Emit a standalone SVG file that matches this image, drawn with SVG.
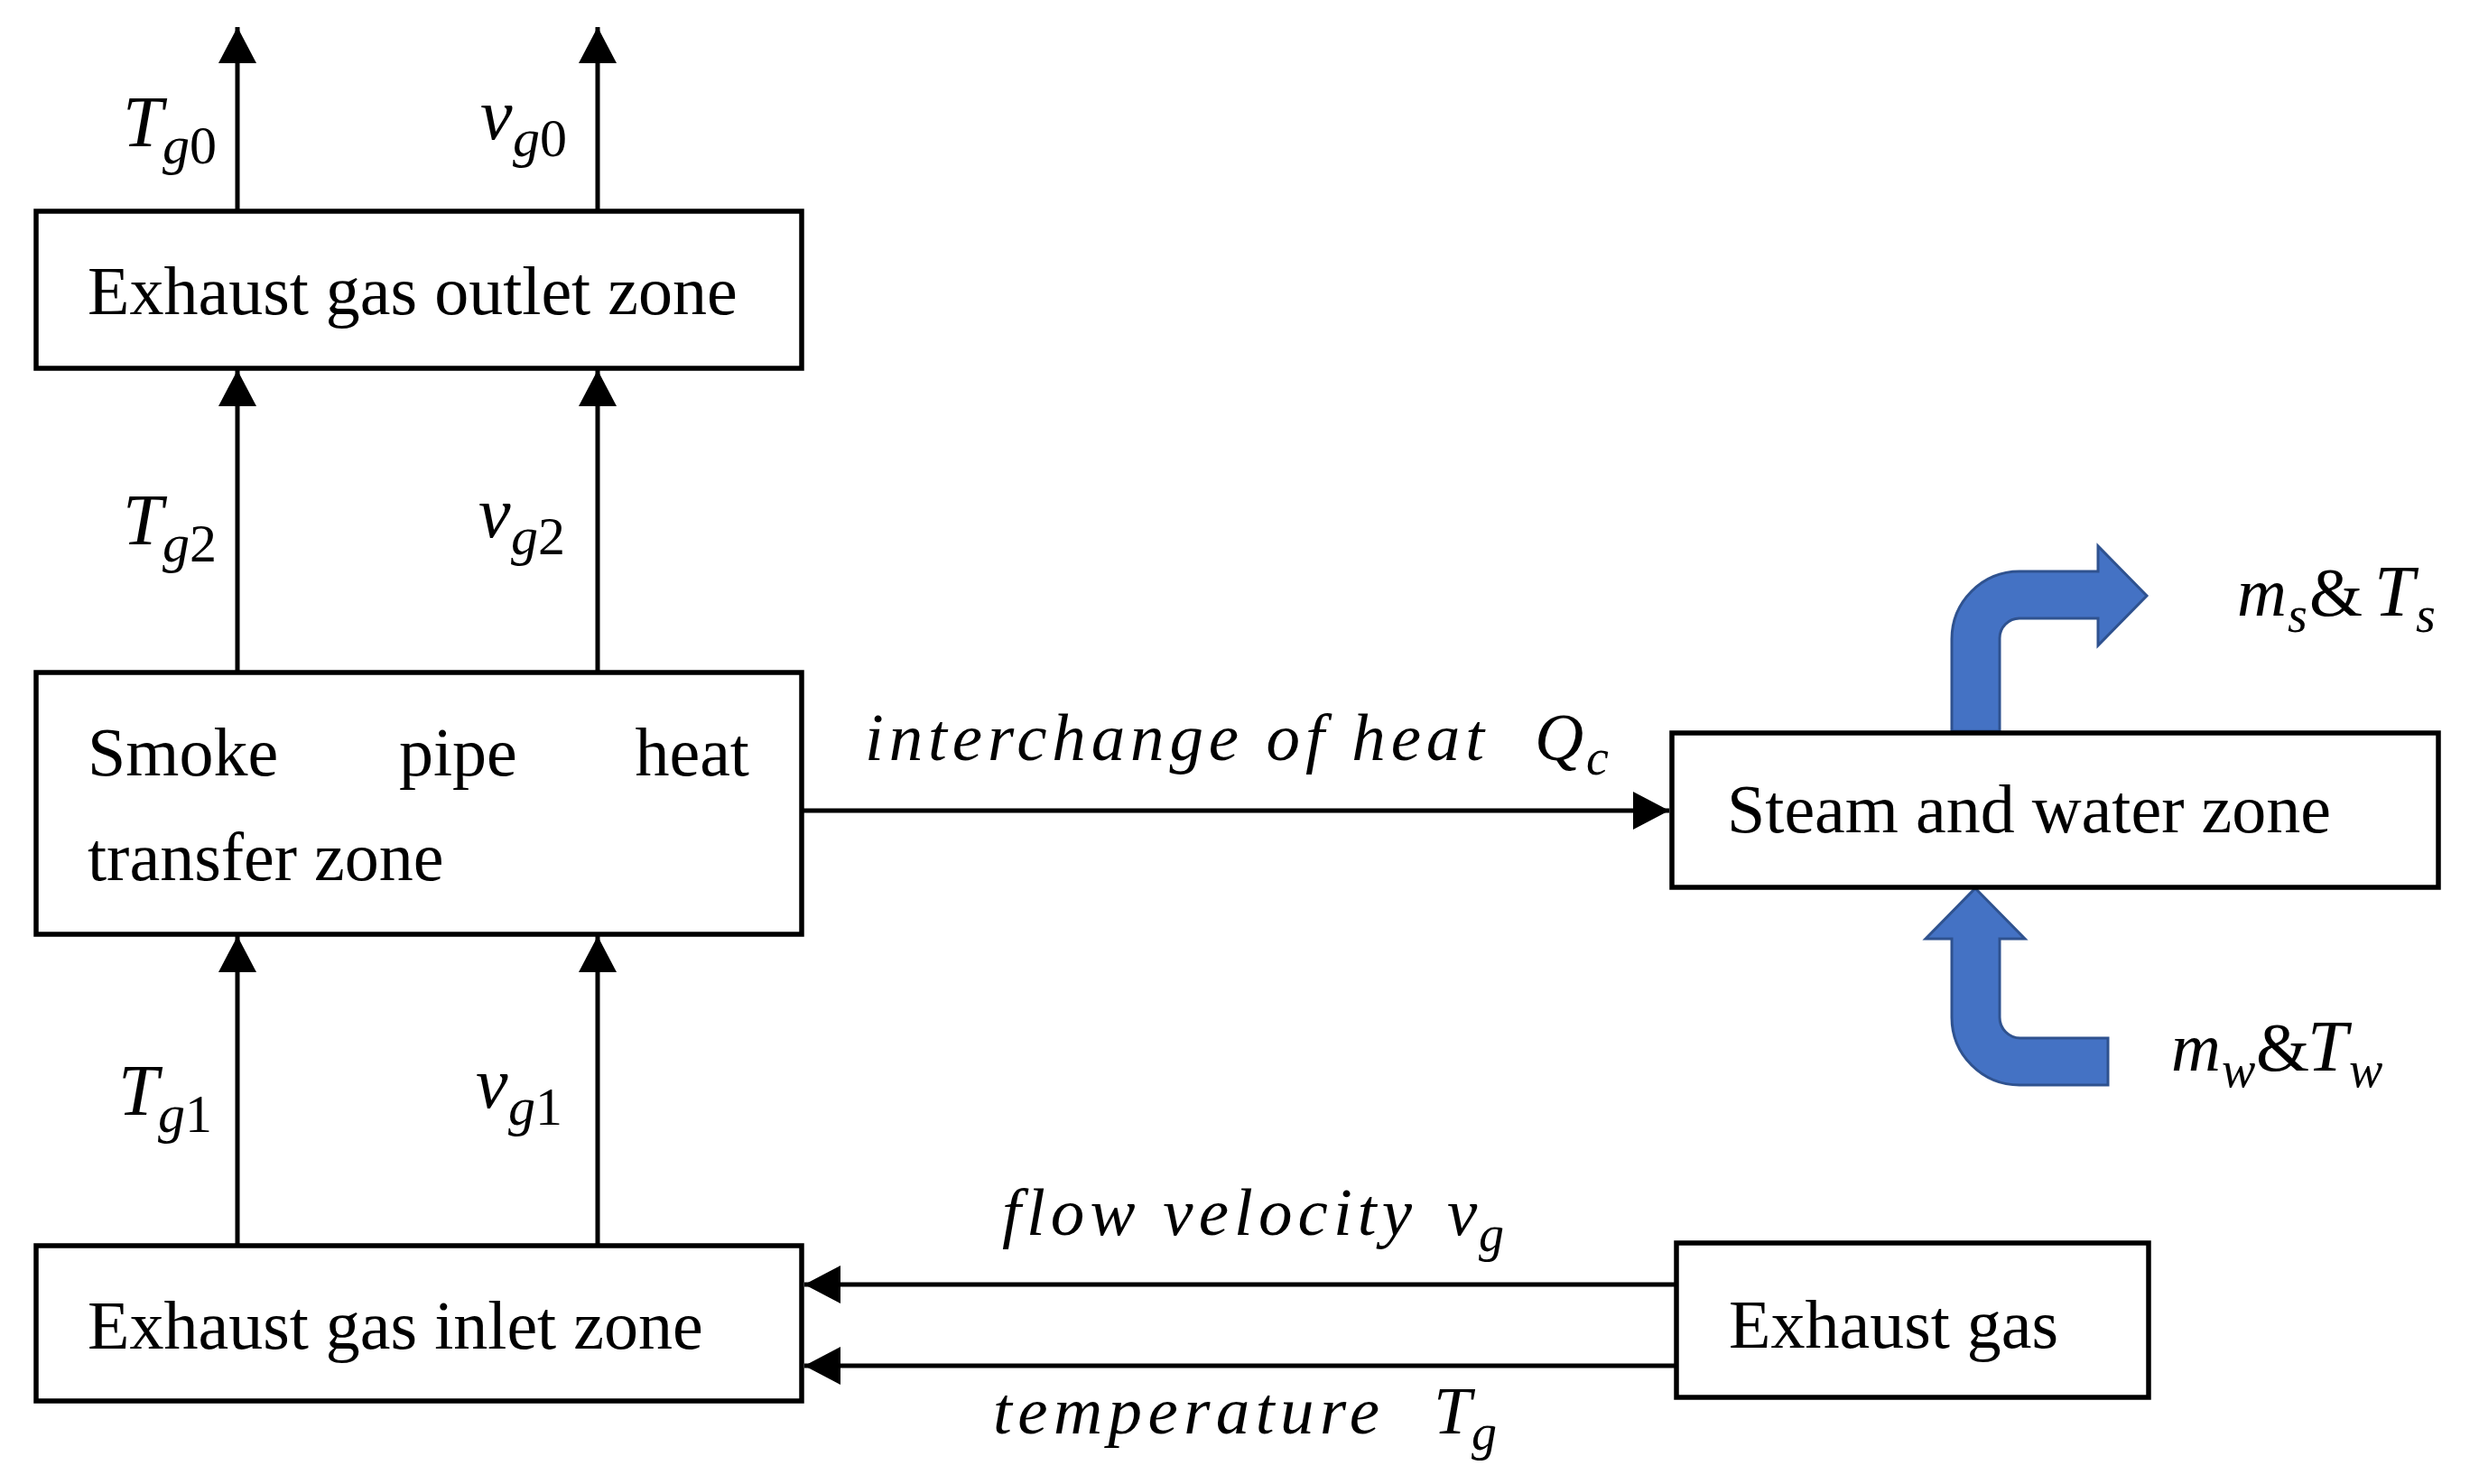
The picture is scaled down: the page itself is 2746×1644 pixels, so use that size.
<svg xmlns="http://www.w3.org/2000/svg" width="2746" height="1644" viewBox="0 0 2746 1644">
<style>
.box{fill:#fff;stroke:#000;stroke-width:5.5}
.bt{font-family:"Liberation Serif","Times New Roman",serif;font-size:76px;fill:#000}
.it{font-family:"Liberation Serif","Times New Roman",serif;font-style:italic;font-size:75px;fill:#000}
.sy{font-family:"Liberation Serif","Times New Roman",serif;font-style:italic;font-size:80px;fill:#000}
.sb{font-family:"Liberation Serif","Times New Roman",serif;font-style:italic;font-size:60px;fill:#000}
.up{font-style:normal}
.ln{stroke:#000;stroke-width:5;fill:none}
.blue{fill:#4472C4;stroke:#2F528F;stroke-width:3;stroke-linejoin:miter}
</style>
<defs>
<marker id="ah" viewBox="0 0 40 42" refX="40" refY="21" markerWidth="40" markerHeight="42" markerUnits="userSpaceOnUse" orient="auto">
<path d="M0,0 L40,21 L0,42 Z" fill="#000"/>
</marker>
</defs>
<rect width="2746" height="1644" fill="#fff"/>

<g id="connectors">
<line class="ln" x1="263" y1="234" x2="263" y2="30" marker-end="url(#ah)"/>
<line class="ln" x1="662" y1="234" x2="662" y2="30" marker-end="url(#ah)"/>
<line class="ln" x1="263" y1="745" x2="263" y2="410" marker-end="url(#ah)"/>
<line class="ln" x1="662" y1="745" x2="662" y2="410" marker-end="url(#ah)"/>
<line class="ln" x1="263" y1="1380" x2="263" y2="1037" marker-end="url(#ah)"/>
<line class="ln" x1="662" y1="1380" x2="662" y2="1037" marker-end="url(#ah)"/>
<line class="ln" x1="888" y1="898" x2="1849" y2="898" marker-end="url(#ah)"/>
<line class="ln" x1="1857" y1="1423" x2="891" y2="1423" marker-end="url(#ah)"/>
<line class="ln" x1="1857" y1="1513" x2="891" y2="1513" marker-end="url(#ah)"/>
<path class="blue" d="M2162,810 L2162,708 A75,75 0 0 1 2237,633 L2324,633 L2324,605 L2378,660 L2324,715 L2324,685 L2237,685 A22,22 0 0 0 2215,707 L2215,810 Z"/>
<path class="blue" d="M2188,984 L2243,1040 L2215,1040 L2215,1127 A23,23 0 0 0 2238,1150 L2335,1150 L2335,1202 L2237,1202 A75,75 0 0 1 2162,1127 L2162,1040 L2133,1040 Z"/>
</g>

<g id="labels">
<text class="sy" x="136" y="162">T</text><text class="sb" x="180" y="181">g<tspan class="up">0</tspan></text>
<text class="sy" x="532" y="154">v</text><text class="sb" x="568" y="173">g<tspan class="up">0</tspan></text>
<text class="sy" x="136" y="603">T</text><text class="sb" x="180" y="622">g<tspan class="up">2</tspan></text>
<text class="sy" x="530" y="595">v</text><text class="sb" x="566" y="614">g<tspan class="up">2</tspan></text>
<text class="sy" x="131" y="1235">T</text><text class="sb" x="175" y="1254">g<tspan class="up">1</tspan></text>
<text class="sy" x="527" y="1227">v</text><text class="sb" x="563" y="1246">g<tspan class="up">1</tspan></text>
<text class="it" x="958" y="842" textLength="686" lengthAdjust="spacing">interchange of heat</text>
<text class="it" x="1700" y="842">Q</text><text class="sb" x="1757" y="858" style="font-size:56px">c</text>
<text class="it" x="1110" y="1368" textLength="454" lengthAdjust="spacing">flow velocity</text>
<text class="it" x="1603" y="1368">v</text><text class="sb" x="1638" y="1386" style="font-size:56px">g</text>
<text class="it" x="1100" y="1588" textLength="428" lengthAdjust="spacing">temperature</text>
<text class="it" x="1588" y="1588">T</text><text class="sb" x="1630" y="1606" style="font-size:56px">g</text>
<text class="sy" x="2478" y="682" style="font-size:76px">m</text><text class="sb" x="2534" y="700" style="font-size:56px">s</text>
<text class="sy" x="2558" y="682" style="font-size:76px;font-style:normal">&amp;</text>
<text class="sy" x="2630" y="682">T</text><text class="sb" x="2676" y="700" style="font-size:56px">s</text>
<text class="sy" x="2405" y="1186" style="font-size:76px">m</text><text class="sb" x="2461" y="1204" style="font-size:56px">w</text>
<text class="sy" x="2499" y="1186" style="font-size:76px;font-style:normal">&amp;</text>
<text class="sy" x="2556" y="1186">T</text><text class="sb" x="2602" y="1204" style="font-size:56px">w</text>
</g>

<g id="outlet">
<rect class="box" x="40" y="234" width="848" height="174"/>
<text class="bt" x="97" y="348">Exhaust gas outlet zone</text>
</g>
<g id="smoke">
<rect class="box" x="40" y="745" width="848" height="290"/>
<text class="bt" x="97" y="859">Smoke</text>
<text class="bt" x="442" y="859">pipe</text>
<text class="bt" x="830" y="859" text-anchor="end">heat</text>
<text class="bt" x="97" y="975">transfer zone</text>
</g>
<g id="inlet">
<rect class="box" x="40" y="1380" width="848" height="172"/>
<text class="bt" x="97" y="1494">Exhaust gas inlet zone</text>
</g>
<g id="steam">
<rect class="box" x="1852" y="812" width="849" height="171"/>
<text class="bt" x="1913" y="922">Steam and water zone</text>
</g>
<g id="exhaust">
<rect class="box" x="1857" y="1377" width="523" height="171"/>
<text class="bt" x="1915" y="1493">Exhaust gas</text>
</g>
</svg>
